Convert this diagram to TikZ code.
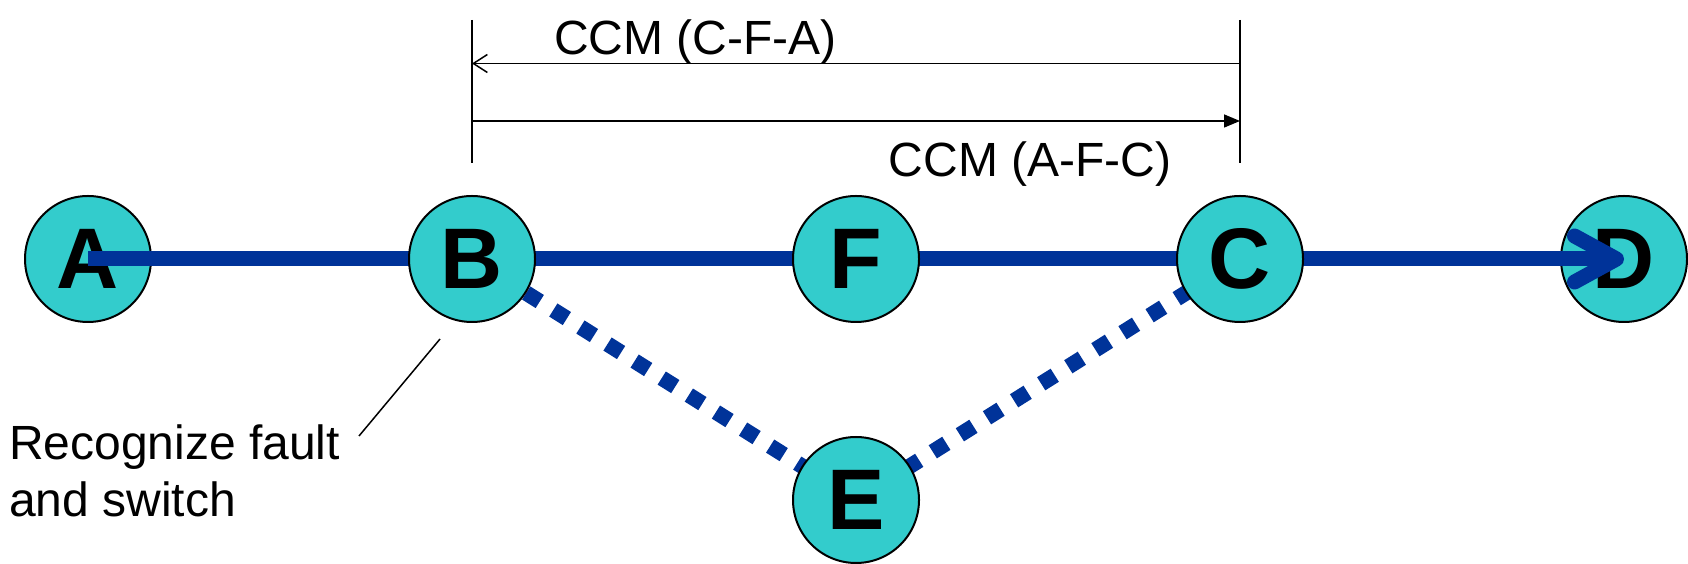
\documentclass[tikz,border=0pt]{standalone}
\usepackage{fontspec}
\setmainfont{Liberation Sans}
\usetikzlibrary{arrows.meta}
\definecolor{nodefill}{HTML}{33CCCC}
\definecolor{linkblue}{HTML}{003399}
\pgfdeclarelayer{bottom}
\pgfdeclarelayer{mid}
\pgfsetlayers{bottom,mid,main}
\begin{document}
\begin{tikzpicture}[x=1pt,y=1pt,
  station/.style={circle, draw=black, line width=2pt, fill=nodefill, minimum size=126pt, inner sep=0pt, font=\fontsize{86}{86}\selectfont\bfseries},
  link/.style={draw=linkblue, line width=15pt},
  backup/.style={draw=linkblue, line width=15.5pt, dash pattern=on 16pt off 16pt},
  annot/.style={draw=black, line width=1.5pt},
  lbl/.style={inner sep=0pt, font=\fontsize{48}{57}\selectfont}]
\useasboundingbox (0,0) rectangle (1688,564);
\begin{pgfonlayer}{bottom}
\node[station] (A) at (88,305) {A};
\node[station] (D) at (1624,305) {D};
\end{pgfonlayer}
\node[station] (B) at (472,305) {B};
\node[station] (F) at (856,305) {F};
\node[station] (C) at (1240,305) {C};
\node[station] (E) at (856,64) {E};
\begin{pgfonlayer}{mid}
\draw[link, -{Straight Barb[length=42pt,width=46pt,round]}] (A.center) -- (D.center);
\draw[backup] (B.center) -- (E.center) -- (C.center);
\end{pgfonlayer}
% CCM span bars
\coordinate (tl) at (472,544);
\coordinate (bl) at (472,401);
\coordinate (tr) at (1240,544);
\coordinate (br) at (1240,401);
\draw[annot] (tl) -- (bl);
\draw[annot] (tr) -- (br);
\coordinate (u0) at (472,500.5);
\coordinate (u1) at (1240,500.5);
\coordinate (l0) at (472,443);
\coordinate (l1) at (1240,443);
\draw[annot, -{Straight Barb[length=14pt,width=18pt]}] (u1) -- (u0);
\draw[annot, -{Triangle[length=16pt,width=13pt]}] (l0) -- (l1);
\node[lbl, anchor=base west] (t1) at (554,509) {CCM (C-F-A)};
\node[lbl, anchor=base west] (t2) at (888.5,387.3) {CCM (A-F-C)};
\node[lbl, anchor=north west, align=left] (t3) at (9,139) {Recognize fault\\and switch};
\coordinate (p1) at (440,225);
\coordinate (p2) at (359,128);
\draw[annot] (p1) -- (p2);
\end{tikzpicture}
\end{document}
